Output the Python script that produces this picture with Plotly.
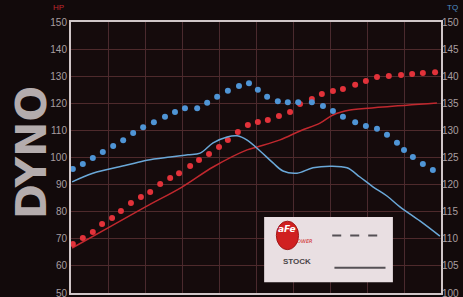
import plotly.graph_objects as go

# aFe horsepower (dotted red, left axis)
afe_hp_x = [0.05, 0.32, 0.59, 0.84, 1.11, 1.35, 1.62, 1.89, 2.14, 2.41, 2.68, 2.92,
            3.22, 3.46, 3.73, 4.0, 4.24, 4.51, 4.78, 5.05, 5.32, 5.62, 5.92, 6.19,
            6.51, 6.78, 7.08, 7.35, 7.68, 7.97, 8.27, 8.59, 8.92, 9.22, 9.51, 9.84]
afe_hp = [68.1, 70.3, 72.5, 75.5, 77.7, 80.3, 83.2, 85.4, 87.3, 90.2, 92.4, 94.2,
          96.9, 99.1, 101.3, 103.9, 106.5, 109.4, 112.0, 113.1, 113.8, 115.3, 116.8, 119.7,
          121.6, 123.4, 124.5, 125.3, 126.8, 128.2, 129.7, 130.1, 130.4, 130.8, 131.2, 131.5]

# aFe torque (dotted blue, right axis)
afe_tq_x = [0.05, 0.32, 0.59, 0.86, 1.14, 1.41, 1.68, 1.95, 2.24, 2.54, 2.81, 3.08,
            3.41, 3.68, 3.95, 4.24, 4.54, 4.81, 5.05, 5.30, 5.59, 5.86, 6.14, 6.51,
            6.81, 7.08, 7.35, 7.68, 7.97, 8.27, 8.54, 8.81, 9.0, 9.24, 9.51, 9.78]
afe_tq = [122.9, 123.8, 124.9, 126.0, 127.1, 128.2, 129.5, 130.6, 131.5, 132.5, 133.4, 134.1,
          134.1, 135.1, 136.2, 137.3, 138.2, 138.7, 137.5, 136.2, 135.4, 135.2, 135.2, 135.2,
          134.5, 133.6, 132.5, 131.5, 130.8, 130.3, 129.2, 127.7, 126.4, 125.1, 123.8, 122.7]

# Stock horsepower (solid red, left axis)
stock_hp_x = [0.03, 1.0, 2.0, 3.0, 3.84, 4.76, 5.03, 5.65, 6.19, 6.73, 7.08, 7.54, 8.43, 9.89]
stock_hp = [66.6, 74.0, 81.7, 89.1, 96.5, 102.8, 103.9, 106.5, 109.8, 112.7, 115.7, 117.5, 118.6, 120.1]

# Stock torque (solid blue, right axis)
stock_tq_x = [0.03, 0.59, 1.51, 2.05, 2.68, 3.16, 3.49, 3.84, 4.22, 4.49, 4.76, 5.11,
              5.46, 5.73, 6.11, 6.54, 7.0, 7.46, 7.81, 8.16, 8.54, 8.89, 9.43, 9.97]
stock_tq = [120.5, 122.1, 123.6, 124.5, 125.1, 125.5, 125.8, 127.7, 128.8, 129.0, 128.2, 126.2,
            124.0, 122.5, 122.1, 123.1, 123.4, 123.1, 121.4, 119.6, 117.9, 115.9, 113.3, 110.5]

hp_ticks = [50, 60, 70, 80, 90, 100, 110, 120, 130, 140, 150]
tq_ticks = [100, 105, 110, 115, 120, 125, 130, 135, 140, 145, 150]

fig = go.Figure()
fig.add_trace(go.Scatter(x=stock_hp_x, y=stock_hp, mode="lines", line=dict(color="#c0282e", width=1.5, shape="spline"), yaxis="y"))
fig.add_trace(go.Scatter(x=stock_tq_x, y=stock_tq, mode="lines", line=dict(color="#6aa8d8", width=1.5, shape="spline"), yaxis="y2"))
fig.add_trace(go.Scatter(x=afe_hp_x, y=afe_hp, mode="markers", marker=dict(color="#e2323a", size=6, line=dict(width=0)), yaxis="y"))
fig.add_trace(go.Scatter(x=afe_tq_x, y=afe_tq, mode="markers", marker=dict(color="#4f95d6", size=6, line=dict(width=0)), yaxis="y2"))

tickfont = dict(family="Liberation Sans", size=10, color="#a89ea0")
fig.update_layout(
    width=463, height=297,
    margin=dict(l=71, r=22, t=22, b=4, autoexpand=False),
    paper_bgcolor="#120a0b", plot_bgcolor="#150b0c",
    showlegend=False,
    xaxis=dict(range=[0, 10], dtick=1, showticklabels=False, ticks="", automargin=False,
               showgrid=True, gridcolor="#4a2a2e", gridwidth=1,
               showline=True, linecolor="#d0c6c8", linewidth=2, mirror=True, zeroline=False),
    yaxis=dict(range=[50, 150], tickvals=hp_ticks, ticktext=[str(v) for v in hp_ticks], automargin=False,
               ticklabeloverflow="allow",
               tickfont=tickfont, ticks="", showgrid=True, gridcolor="#4e2a2c", gridwidth=1,
               showline=True, linecolor="#d0c6c8", linewidth=2, mirror=True, zeroline=False),
    yaxis2=dict(range=[100, 150], tickvals=tq_ticks, ticktext=[str(v) for v in tq_ticks], automargin=False,
                ticklabeloverflow="allow",
                tickfont=tickfont, ticks="", overlaying="y", side="right", showgrid=False, zeroline=False),
)

# Axis unit labels
fig.add_annotation(text="HP", xref="paper", yref="paper", x=-0.035, y=1.079, showarrow=False,
                   font=dict(family="Liberation Sans", size=8, color="#c0282e"), xanchor="center", yanchor="top")
fig.add_annotation(text="TQ", xref="paper", yref="paper", x=1.01, y=1.079, showarrow=False,
                   font=dict(family="Liberation Sans", size=8, color="#4f8fc8"), xanchor="left", yanchor="top")

# DYNO vertical label
fig.add_annotation(text="<b>DYNO</b>", xref="paper", yref="paper", x=-0.18, y=0.52, showarrow=False,
                   textangle=-90, font=dict(family="DejaVu Sans", size=42, color="#b4acad"))

# Legend box
fig.add_shape(type="rect", xref="paper", yref="paper", x0=0.522, x1=0.87, y0=0.04, y1=0.28,
              fillcolor="#e9dfe2", line=dict(color="#e9dfe2", width=0))
fig.add_shape(type="circle", xref="paper", yref="paper", x0=0.555, x1=0.615, y0=0.16, y1=0.265,
              fillcolor="#d02020", line=dict(color="#a01818", width=1))
fig.add_annotation(text="<b><i>aFe</i></b>", xref="paper", yref="paper", x=0.585, y=0.212, showarrow=False,
                   font=dict(family="DejaVu Sans", size=9, color="#ffffff"))
fig.add_annotation(text="<i>POWER</i>", xref="paper", yref="paper", x=0.628, y=0.175, showarrow=False,
                   font=dict(family="DejaVu Sans", size=5, color="#d02020"))
fig.add_shape(type="line", xref="paper", yref="paper", x0=0.706, x1=0.85, y0=0.212, y1=0.212,
              line=dict(color="#555055", width=2, dash="dash"))
fig.add_annotation(text="<b>STOCK</b>", xref="paper", yref="paper", x=0.61, y=0.093, showarrow=False,
                   font=dict(family="Liberation Sans", size=8, color="#4a4548"))
fig.add_shape(type="line", xref="paper", yref="paper", x0=0.712, x1=0.85, y0=0.093, y1=0.093,
              line=dict(color="#555055", width=2))

fig.write_html("out.html", config={"displayModeBar": False},
               post_script="document.body.style.margin='0px';document.body.style.background='#120a0b';")
